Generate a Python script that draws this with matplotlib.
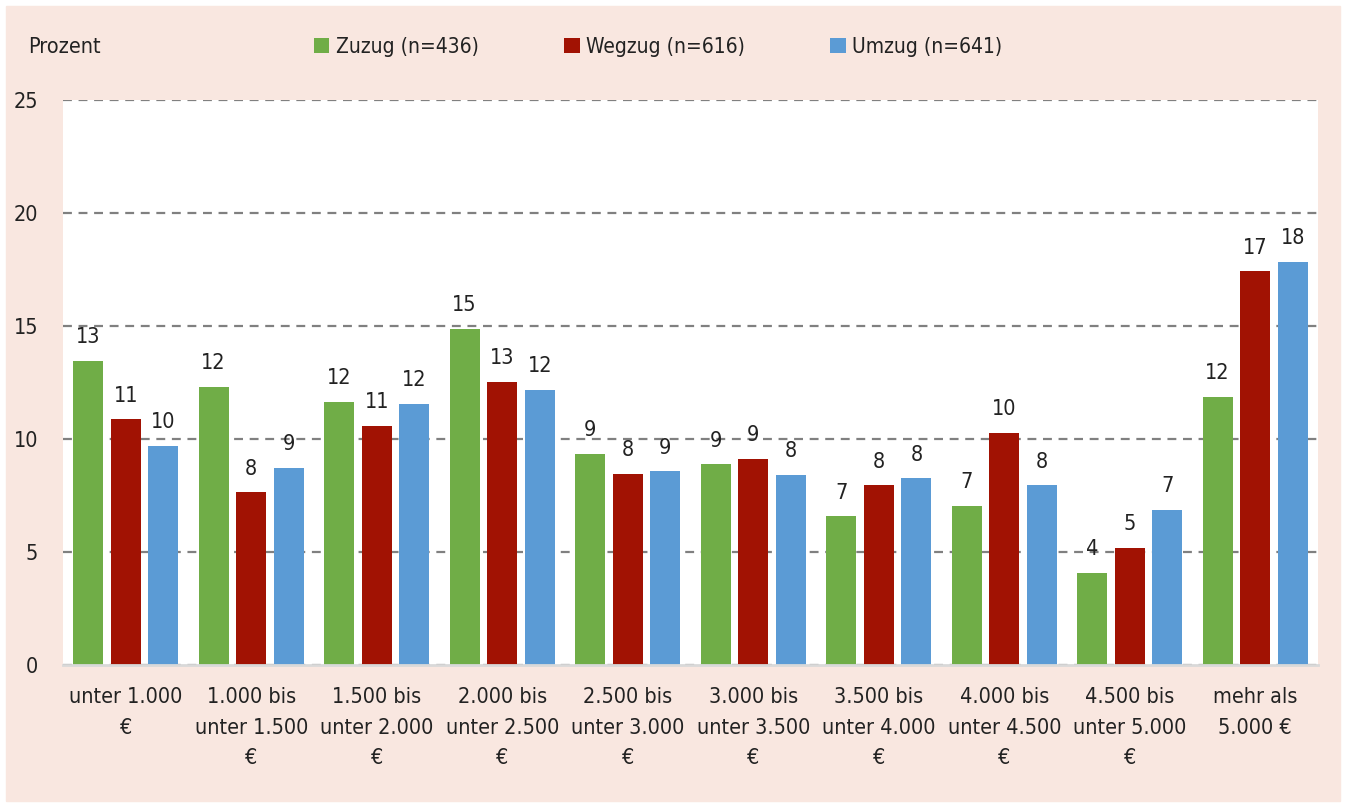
import matplotlib.pyplot as plt
import matplotlib.patches as mpatches
import numpy as np

plt.rcParams['font.family'] = ['DejaVu Sans']
plt.rcParams['font.stretch'] = 'condensed'

categories = ['unter 1.000\n€', '1.000 bis\nunter 1.500\n€', '1.500 bis\nunter 2.000\n€',
              '2.000 bis\nunter 2.500\n€', '2.500 bis\nunter 3.000\n€', '3.000 bis\nunter 3.500\n€',
              '3.500 bis\nunter 4.000\n€', '4.000 bis\nunter 4.500\n€', '4.500 bis\nunter 5.000\n€',
              'mehr als\n5.000 €']
zuzug = [13.45, 12.3, 11.64, 14.87, 9.34, 8.89, 6.59, 7.04, 4.07, 11.86]
wegzug = [10.88, 7.65, 10.58, 12.52, 8.45, 9.12, 7.96, 10.27, 5.18, 17.43]
umzug = [9.69, 8.72, 11.55, 12.17, 8.58, 8.41, 8.27, 7.96, 6.86, 17.83]
series = [('Zuzug (n=436)', zuzug, '#70ad47'),
          ('Wegzug (n=616)', wegzug, '#a11203'),
          ('Umzug (n=641)', umzug, '#5b9bd5')]

fig = plt.figure(figsize=(13.46, 8.07), dpi=100, facecolor='white')
# pink panel behind everything
fig.patches.append(mpatches.Rectangle((6/1346, 6/807), 1 - 12/1346, 1 - 12/807,
                                      transform=fig.transFigure, color='#f9e7e0', zorder=-5))

ax = fig.add_axes([63/1346, 1 - 665/807, (1318 - 63)/1346, (665 - 100)/807])
ax.set_facecolor('white')

x = np.arange(len(categories))
w = 0.24
step = 0.3
for i, (name, vals, col) in enumerate(series):
    pos = x + (i - 1) * step
    bars = ax.bar(pos, vals, width=w, color=col, label=name, zorder=3)
    for p, v in zip(pos, vals):
        ax.text(p, v + 0.6, f'{round(v):d}', ha='center', va='bottom', fontsize=15.5, color='#222222')

ax.set_xlim(-0.5, len(categories) - 0.5)
ax.set_ylim(0, 25)
ax.set_yticks(range(0, 26, 5))
ax.yaxis.grid(True, linestyle=(0, (4, 3)), color='#808080', linewidth=1.6, zorder=1)
ax.set_axisbelow(True)
for s in ['top', 'right', 'left']:
    ax.spines[s].set_visible(False)
ax.spines['bottom'].set_color('#d9d9d9')
ax.spines['bottom'].set_linewidth(2)
ax.spines['bottom'].set_zorder(4)
ax.set_xticks(x)
ax.set_xticklabels(categories, fontsize=15.5, linespacing=1.65, color='#222222')
ax.tick_params(axis='both', length=0, labelsize=15.5, colors='#222222')
ax.tick_params(axis='y', pad=18)
ax.tick_params(axis='x', pad=16)

fig.text(28/1346, 1 - 47/807, 'Prozent', fontsize=15.5, va='center', ha='left', color='#222222')
fig.legend(loc='center left', bbox_to_anchor=(295/1346, 1 - 47/807), ncol=3, frameon=False,
           fontsize=15, handlelength=0.75, handleheight=0.75, handletextpad=0.3,
           columnspacing=4.1, labelcolor='#222222')

fig.savefig('out.png', dpi=100, facecolor=fig.get_facecolor())
